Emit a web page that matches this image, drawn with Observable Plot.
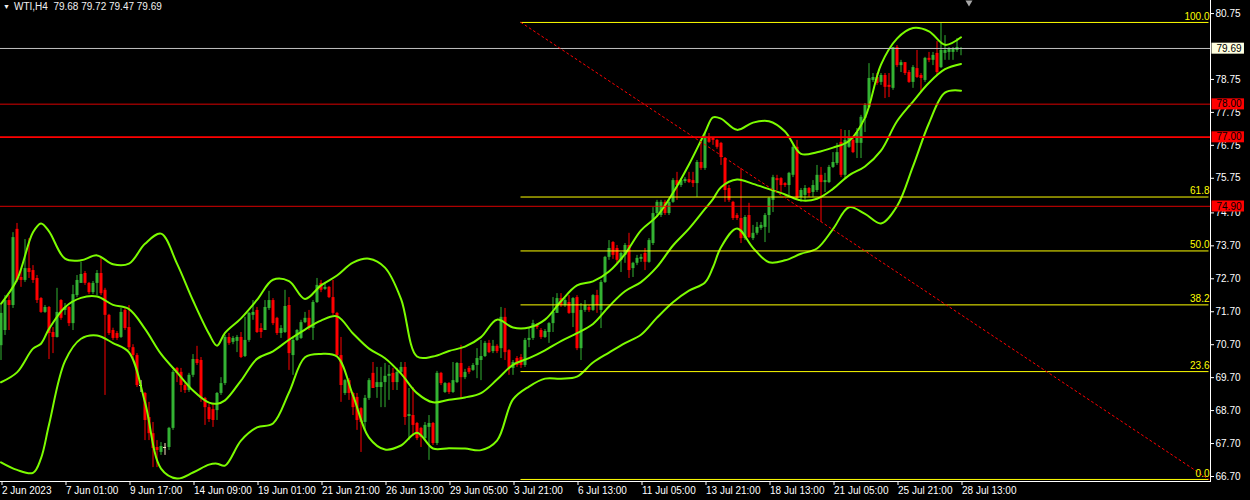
<!DOCTYPE html>
<html><head><meta charset="utf-8">
<script src="https://cdn.jsdelivr.net/npm/d3@7"></script>
<script src="https://cdn.jsdelivr.net/npm/@observablehq/plot@0.6"></script>
<style>
html,body{margin:0;padding:0;background:#000;}
#wrap{position:relative;width:1250px;height:500px;overflow:hidden;background:#000;}
#title{position:absolute;left:3px;top:1px;font:10px "Liberation Sans",Arial,sans-serif;color:#f0f0f0;white-space:pre;line-height:12px;}
#title .tri{font-size:7px;position:relative;top:-1px;margin-right:4px;}
</style></head><body>
<div id="wrap"><div id="title"></div></div>
<script>
// ---------- data ----------
const symbol = "WTI,H4";
const open = [
70.67,71.13,72.04,71.89,74.20,72.74,72.65,73.01,72.95,72.71,
72.10,71.68,71.83,71.07,70.92,72.04,71.74,71.83,71.34,72.19,
72.56,72.86,72.56,72.28,72.56,72.86,72.35,71.59,71.13,71.04,
70.92,71.74,71.22,70.61,70.37,69.46,69.22,68.49,68.00,67.58,
67.43,67.58,67.58,68.16,69.98,69.86,69.46,69.31,69.77,70.25,
70.22,69.07,68.79,68.73,68.70,69.22,69.52,70.92,70.77,70.80,
70.92,70.34,70.83,71.59,71.74,71.19,71.13,71.80,72.04,71.50,
71.04,71.07,71.89,70.37,70.83,70.89,71.37,71.50,71.19,71.98,
72.56,72.38,72.44,72.13,71.65,70.37,69.22,69.61,69.22,69.10,
68.76,68.34,69.07,69.83,69.40,69.40,69.55,69.74,69.83,69.55,
69.86,70.01,68.52,68.55,68.31,68.16,67.85,68.19,68.31,67.70,
69.83,69.25,69.52,69.25,69.55,70.13,69.70,69.98,69.92,70.07,
70.22,70.34,70.74,70.49,70.65,70.58,71.53,70.52,69.98,70.28,
70.31,70.07,70.83,70.89,71.28,71.13,70.92,71.07,71.34,71.65,
72.10,71.89,71.98,71.65,72.13,70.58,71.74,71.83,71.74,72.19,
71.74,72.59,73.35,73.80,73.62,73.26,73.41,73.71,73.01,73.17,
73.29,73.47,73.20,73.77,74.68,74.62,75.02,74.68,75.02,75.68,
75.53,75.65,75.71,75.68,75.59,76.23,76.05,76.96,76.96,76.90,
76.81,76.35,75.44,75.02,74.62,74.53,73.92,74.62,73.92,74.08,
74.23,74.26,74.62,75.08,75.74,75.74,75.59,75.53,75.84,76.69,
75.17,75.23,75.44,75.32,75.38,75.84,75.62,75.62,76.08,76.20,
76.84,75.84,76.69,76.90,76.81,76.81,77.57,77.90,78.72,78.81,
78.66,78.87,78.57,78.48,79.72,79.17,79.26,78.96,78.66,79.08,
78.87,78.72,79.39,79.33,79.54,79.11,79.54,79.57,79.57,79.63,
79.68];
const high = [
71.89,72.19,72.19,74.10,74.38,72.95,73.89,73.92,73.10,72.80,
72.13,71.89,71.86,71.22,72.41,72.07,71.95,71.86,72.50,72.80,
73.20,72.92,72.59,72.62,72.95,73.35,72.41,71.62,71.20,71.10,
71.80,71.80,71.89,70.70,70.43,69.61,69.25,68.95,68.34,67.79,
67.73,67.70,68.19,69.92,70.01,69.98,69.52,69.83,70.40,70.65,
70.31,69.10,68.88,68.91,69.25,69.70,70.98,71.04,70.95,70.98,
71.07,71.53,71.68,72.04,71.83,71.34,72.04,72.32,72.10,71.53,
71.28,72.35,72.13,70.89,71.16,71.44,71.68,71.74,72.04,72.71,
72.65,72.59,72.47,72.65,71.68,70.92,69.64,69.67,69.25,69.22,
68.79,69.16,69.67,70.16,70.01,70.01,70.13,70.07,69.98,69.98,
70.16,70.16,69.37,69.40,68.34,68.19,68.34,68.55,68.34,69.89,
69.86,69.55,69.55,70.16,70.16,70.68,69.95,70.04,70.13,70.58,
70.83,70.80,70.83,70.83,70.70,71.83,71.80,70.55,70.22,70.34,
70.40,70.89,71.22,71.44,71.34,71.19,71.16,71.37,72.13,72.25,
72.25,72.10,72.19,72.13,72.19,71.95,72.04,71.89,72.22,72.35,
72.65,73.38,73.86,73.83,73.71,73.50,73.77,74.08,73.20,73.41,
73.44,73.62,73.92,74.86,75.08,75.08,75.08,75.08,75.74,75.93,
75.74,75.77,75.93,75.93,76.29,76.81,77.14,77.11,76.99,76.93,
76.84,76.38,75.53,75.05,74.68,76.05,74.62,74.99,74.32,74.41,
74.41,74.68,75.17,75.84,75.84,75.77,75.62,75.93,76.75,76.90,
75.44,75.53,75.47,75.68,76.14,76.08,75.90,76.14,76.53,76.81,
77.23,77.20,77.20,76.96,77.26,77.66,78.02,79.23,78.93,78.93,
78.93,78.93,78.93,79.72,79.78,79.33,79.26,79.02,79.17,79.63,
78.93,79.42,79.57,79.57,79.90,80.45,80.08,79.72,79.72,79.99,
79.72];
const low = [
70.22,70.98,71.13,71.80,72.59,72.44,72.59,72.71,72.56,71.95,
71.65,71.65,70.25,70.43,70.90,71.44,71.59,71.25,71.13,72.13,
72.56,72.50,72.22,72.22,72.19,72.19,69.16,70.98,70.83,70.83,
70.89,71.13,70.52,70.28,69.40,69.25,67.79,67.79,66.97,66.97,
67.34,67.34,67.49,68.10,69.55,69.25,69.22,69.25,69.70,70.07,
68.95,68.25,68.34,68.19,68.40,69.16,69.46,70.68,70.70,70.46,
70.28,70.31,70.77,71.44,71.04,70.89,71.13,71.74,71.28,70.98,
70.89,71.04,69.92,69.77,70.80,70.86,71.34,71.13,70.83,71.95,
72.28,72.35,72.10,71.59,70.31,68.95,69.16,69.01,68.55,68.10,
67.43,68.10,69.01,69.37,69.07,68.79,68.79,69.01,69.31,69.31,
69.80,68.25,67.79,67.91,67.79,67.58,67.79,67.19,67.64,67.64,
69.46,69.22,69.19,69.22,69.52,69.07,69.64,69.80,69.89,69.67,
69.61,70.31,70.43,70.43,70.43,70.28,70.22,69.77,69.77,70.01,
69.98,70.01,70.61,70.83,71.16,70.86,70.89,70.74,71.07,71.65,
71.83,71.83,71.62,71.22,70.52,70.22,71.68,71.68,71.71,71.65,
71.19,72.56,73.26,73.29,73.17,72.89,73.17,72.71,72.74,73.10,
73.20,72.95,73.17,73.71,74.56,74.56,74.62,74.62,74.99,75.08,
75.47,75.59,75.59,75.47,75.17,75.99,75.99,76.81,76.75,76.63,
76.14,75.02,75.02,74.47,74.47,73.77,73.86,73.92,73.86,74.02,
74.17,73.80,74.08,74.71,75.38,75.29,75.47,75.23,75.77,75.08,
75.02,75.08,75.17,75.17,75.32,74.41,75.32,75.59,76.05,76.14,
75.77,75.74,76.66,76.50,76.35,76.35,77.14,77.87,78.66,78.57,
78.57,78.17,78.20,78.42,79.11,78.96,78.87,78.63,78.48,78.78,
78.35,78.66,79.26,79.17,78.87,79.08,79.33,79.33,79.33,79.57,
79.47];
const close = [
71.65,72.04,71.89,73.95,72.65,72.65,73.01,72.89,72.65,72.04,
71.68,71.83,71.04,70.92,71.68,71.50,71.83,71.34,72.22,72.65,
72.83,72.56,72.28,72.56,72.86,72.25,71.59,71.04,70.89,70.89,
71.68,71.19,70.61,70.37,69.46,69.46,68.40,68.00,67.55,67.49,
67.61,67.58,68.16,69.86,69.83,69.46,69.31,69.77,70.25,70.13,
69.07,68.79,68.43,68.40,69.22,69.52,70.92,70.74,70.89,70.92,
70.31,70.83,71.65,71.68,71.07,71.07,71.83,72.04,71.34,71.04,
71.19,71.86,70.43,70.83,71.13,71.37,71.50,71.19,71.98,72.50,
72.35,72.44,72.13,71.65,70.37,69.46,69.61,69.22,68.79,68.40,
68.34,69.07,69.61,69.37,69.55,69.55,69.74,69.80,69.55,69.86,
70.01,68.49,68.58,68.25,67.85,67.88,68.25,68.31,67.70,69.83,
69.52,69.52,69.25,69.61,70.13,69.70,69.86,69.86,70.07,70.28,
70.34,70.74,70.46,70.65,70.49,71.53,70.46,69.98,70.16,70.07,
70.07,70.83,70.89,71.34,71.22,70.92,71.10,71.34,71.68,72.10,
71.89,72.04,71.65,72.10,70.58,71.74,71.89,71.74,72.19,71.89,
72.59,73.35,73.62,73.41,73.26,73.47,73.71,72.95,73.17,73.32,
73.35,73.20,73.86,74.68,75.02,75.02,74.68,75.02,75.68,75.53,
75.68,75.71,75.62,75.59,76.23,76.05,76.96,76.84,76.90,76.69,
76.38,75.38,75.08,74.53,74.53,73.92,74.56,73.95,74.08,74.26,
74.32,74.62,75.14,75.77,75.68,75.53,75.53,75.90,76.69,75.14,
75.38,75.44,75.29,75.53,75.84,75.62,75.68,76.08,76.23,76.53,
75.84,76.90,76.96,76.53,77.14,77.60,77.96,78.78,78.81,78.63,
78.87,78.51,78.51,79.72,79.17,79.26,78.93,78.66,79.11,78.81,
78.78,79.39,79.33,79.48,78.96,79.63,79.63,79.69,79.69,79.72,
79.69];

// Bollinger bands, read at these bar indices
const bandBars = [0,4,8,10,12,16,20,24,28,32,36,40,44,48,52,54,56,60,64,68,72,76,80,84,88,92,96,100,104,108,112,116,120,124,128,132,136,140,144,148,152,156,160,164,168,172,176,178,180,184,188,192,196,200,204,208,212,216,220,224,228,232,236,240];
const upper = [71.94,72.67,74.11,74.38,74.14,73.31,73.26,73.41,73.14,73.16,73.76,74.07,73.16,72.04,71.03,70.67,71.06,71.50,72.06,72.67,72.63,72.09,72.50,72.80,73.19,73.31,73.04,72.09,70.34,70.34,70.51,70.64,70.93,71.46,71.22,71.22,71.46,72.02,72.50,72.62,72.92,73.45,74.17,74.60,75.31,76.17,77.14,77.60,77.56,77.22,77.44,77.48,77.17,76.49,76.54,76.68,76.88,77.59,79.20,79.99,80.31,80.21,79.80,80.03];
const middle = [69.56,69.86,70.58,70.73,71.18,71.84,72.12,72.16,71.91,71.78,71.18,70.42,69.86,69.31,68.94,68.91,69.01,69.61,70.27,70.50,70.85,71.16,71.43,71.56,71.04,70.58,70.29,69.82,69.23,68.95,69.03,69.10,69.23,69.64,70.09,70.29,70.53,70.81,71.05,71.33,71.86,72.32,72.60,73.06,73.71,74.22,74.82,75.12,75.48,75.71,75.58,75.42,75.26,75.08,75.13,75.43,75.84,76.11,76.59,77.48,78.08,78.65,79.06,79.22];
const lower = [67.13,66.90,66.81,67.25,68.27,70.20,70.88,70.98,70.75,70.47,68.95,66.94,66.64,66.82,67.06,67.09,67.03,67.79,68.19,68.31,69.25,70.32,70.42,70.34,69.16,67.88,67.52,67.64,68.03,67.55,67.56,67.55,67.50,67.79,69.04,69.43,69.67,69.67,69.73,70.16,70.46,70.75,71.00,71.52,71.99,72.34,72.59,73.05,73.66,74.23,73.64,73.20,73.26,73.46,73.62,74.21,74.87,74.67,74.38,74.90,76.11,77.42,78.35,78.41];

// horizontal levels
const currentPrice = 79.69;
const levelLines = [78.00, 77.00, 74.90];
const keyLevel = 77.00;

// Fibonacci retracement anchors (bar index, price)
const fibBars = [130, 302];
const fibPrices = [80.48, 66.61];
const fibLevels = [0, 23.6, 38.2, 50, 61.8, 100];

// axes
const xTickBars = [0,16,32,48,64,80,96,112,128,144,160,176,192,208,224,240];
const xTickLabels = ["2 Jun 2023","7 Jun 01:00","9 Jun 17:00","14 Jun 09:00","19 Jun 01:00","21 Jun 21:00","26 Jun 13:00","29 Jun 05:00","3 Jul 21:00","6 Jul 13:00","11 Jul 05:00","13 Jul 21:00","18 Jul 13:00","21 Jul 05:00","25 Jul 21:00","28 Jul 13:00"];
const yTicks = [80.75,78.75,77.75,76.75,75.75,74.70,73.70,72.70,71.70,70.70,69.70,68.70,67.70,66.70];
const shiftBar = [242];

// ---------- build ----------
const bars = open.map((o, i) => ({i, o, h: high[i], l: low[i], c: close[i]}));
const bull = bars.filter(d => d.c > d.o);
const bear = bars.filter(d => d.c < d.o);
const doji = bars.filter(d => d.c === d.o);
const bands = bandBars.map((b, k) => ({i: b, u: upper[k], m: middle[k], l: lower[k]}));
const fibPrice = lvl => fibPrices[1] + (fibPrices[0] - fibPrices[1]) * lvl / 100;
const fibLine = fibBars.map((b, k) => ({b, p: fibPrices[k]}));

const GREEN = "#33b233", RED = "#ff0000", DOJI = "#ffe4c4", BAND = "#7cfc00";

const last = bars[bars.length - 1];
document.getElementById("title").innerHTML =
  '<span class="tri">▼</span>' + symbol + "  " +
  [last.o, last.h, last.l, last.c].map(v => v.toFixed(2)).join(" ");

const candleMarks = (data, color) => [
  Plot.ruleX(data, {x: "i", y1: "l", y2: "h", stroke: color, strokeWidth: 1, clip: true}),
  Plot.ruleX(data, {x: "i", y1: "o", y2: "c", stroke: color, strokeWidth: 3, clip: true})
];

const priceLabelValues = [currentPrice, ...levelLines];
const priceLabelText = priceLabelValues.map(v => v.toFixed(2));

const chart = Plot.plot({
  width: 1250, height: 500,
  marginTop: 0, marginBottom: 19, marginLeft: 0, marginRight: 40,
  style: {background: "#000", color: "#fff", fontFamily: "'Liberation Sans', Arial, sans-serif", fontSize: "10px", overflow: "visible"},
  x: {domain: [-0.125, 302.375]},
  y: {domain: [66.548, 81.146]},
  marks: [
    ...candleMarks(bull, GREEN),
    ...candleMarks(bear, RED),
    Plot.ruleX(doji, {x: "i", y1: "l", y2: "h", stroke: DOJI, strokeWidth: 1, clip: true}),
    Plot.ruleY(doji, {y: "o", x1: d => d.i - 0.375, x2: d => d.i + 0.375, stroke: DOJI, strokeWidth: 1, clip: true}),
    Plot.line(bands, {x: "i", y: "u", stroke: BAND, strokeWidth: 2, curve: "catmull-rom", clip: true}),
    Plot.line(bands, {x: "i", y: "m", stroke: BAND, strokeWidth: 2, curve: "catmull-rom", clip: true}),
    Plot.line(bands, {x: "i", y: "l", stroke: BAND, strokeWidth: 2, curve: "catmull-rom", clip: true}),
    Plot.ruleY([currentPrice], {stroke: "#c0c0c0", strokeWidth: 1}),
    Plot.ruleY(levelLines, {stroke: RED, strokeWidth: d => d === keyLevel ? 1.6 : 1, strokeOpacity: d => d === keyLevel ? 1 : 0.85}),
    Plot.ruleY(fibLevels, {y: fibPrice, x1: fibBars[0], x2: fibBars[1], stroke: "#ffff00", strokeWidth: 1}),
    Plot.line(fibLine, {x: "b", y: "p", stroke: RED, strokeWidth: 1, strokeDasharray: "2,3"}),
    Plot.text(fibLevels, {y: fibPrice, text: d => d.toFixed(1), frameAnchor: "right", textAnchor: "end", dx: -1, dy: -6, fill: "#ffff00"}),
    Plot.axisY({anchor: "right", ticks: yTicks, tickFormat: d => d.toFixed(2), tickSize: 3, tickPadding: 2}),
    Plot.axisX({anchor: "bottom", ticks: xTickBars, tickFormat: d => xTickLabels[xTickBars.indexOf(d)], tickSize: 4, tickPadding: 1, textAnchor: "start", dx: 1}),
    Plot.frame({anchor: "bottom", stroke: "#fff"}),
    Plot.frame({anchor: "right", stroke: "#fff"}),
    Plot.dot(shiftBar, {x: d => d, frameAnchor: "top", symbol: "triangle", rotate: 180, r: 2.6, fill: "#a8a8a8", stroke: "none", dy: 2}),
    Plot.text(priceLabelValues, {y: d => d, text: d => d.toFixed(2), frameAnchor: "right", textAnchor: "start", dx: 6, fill: "#000"})
  ]
});

const wrap = document.getElementById("wrap");
wrap.insertBefore(chart, wrap.firstChild);

// background boxes behind the axis price labels
(function () {
  const ns = "http://www.w3.org/2000/svg";
  const texts = [...chart.querySelectorAll("text")].filter(t => priceLabelText.includes(t.textContent.trim()));
  if (!texts.length) return;
  const sr = chart.getBoundingClientRect();
  const group = texts[0].parentNode;
  const boxes = document.createElementNS(ns, "g");
  texts.forEach(t => {
    const k = priceLabelText.indexOf(t.textContent.trim());
    const b = t.getBoundingClientRect();
    const cy = b.top - sr.top + b.height / 2;
    const r = document.createElementNS(ns, "rect");
    r.setAttribute("x", b.left - sr.left - 5);
    r.setAttribute("y", cy - 5.5);
    r.setAttribute("width", b.width + 7);
    r.setAttribute("height", 11);
    r.setAttribute("fill", priceLabelValues[k] === currentPrice ? "#ffffe0" : RED);
    boxes.appendChild(r);
  });
  group.parentNode.insertBefore(boxes, group);
})();
</script>
</body></html>
